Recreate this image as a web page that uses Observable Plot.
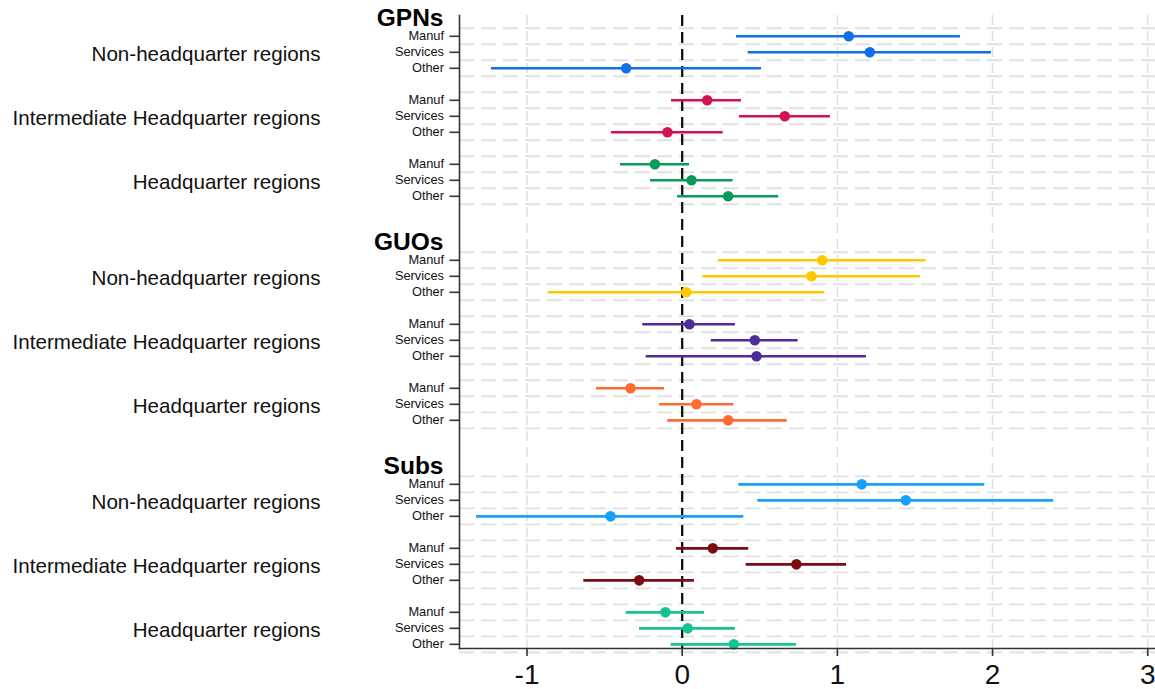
<!DOCTYPE html>
<html>
<head>
<meta charset="utf-8">
<script src="https://cdn.jsdelivr.net/npm/d3@7"></script>
<script src="https://cdn.jsdelivr.net/npm/@observablehq/plot@0.6"></script>
<style>
  html, body { margin: 0; padding: 0; background: #ffffff; }
  #chart svg { display: block; }
</style>
</head>
<body>
<div id="chart"></div>
<script>
// ---- data ----
const sections = ["GPNs", "GUOs", "Subs"];
const groups = ["Non-headquarter regions", "Intermediate Headquarter regions", "Headquarter regions"];
const sectors = ["Manuf", "Services", "Other"];

// point estimates, ordered section > group > sector
const coef = [
   1.073,  1.209, -0.361,
   0.161,  0.661, -0.095,
  -0.176,  0.060,  0.296,
   0.902,  0.833,  0.026,
   0.047,  0.468,  0.479,
  -0.333,  0.092,  0.296,
   1.157,  1.441, -0.462,
   0.197,  0.736, -0.277,
  -0.108,  0.036,  0.332
];
const lower = [
   0.350,  0.425, -1.229,
  -0.069,  0.369, -0.456,
  -0.398, -0.204, -0.030,
   0.232,  0.133, -0.863,
  -0.254,  0.187, -0.232,
  -0.552, -0.146, -0.093,
   0.365,  0.487, -1.325,
  -0.037,  0.412, -0.634,
  -0.361, -0.275, -0.071
];
const upper = [
   1.793,  1.993,  0.511,
   0.382,  0.955,  0.264,
   0.047,  0.328,  0.622,
   1.572,  1.535,  0.919,
   0.343,  0.747,  1.187,
  -0.114,  0.333,  0.677,
   1.950,  2.394,  0.397,
   0.429,  1.059,  0.079,
   0.144,  0.343,  0.736
];
// one colour per section × group
const colors = [
  "#1170e6", "#d3124f", "#0c9a5a",
  "#fdc800", "#4f2c9a", "#fe6a30",
  "#17a1fa", "#7a0c12", "#13c393"
];
const xTicks = [-1, 0, 1, 2, 3];

// ---- layout helpers (slot structure) ----
const rows = [];
sections.forEach((sec, i) => groups.forEach((g, j) => sectors.forEach((sc, k) => {
  const n = i * 9 + j * 3 + k;
  rows.push({section: sec, group: g, sector: sc, slot: 14 * i + 4 * j + k,
             coef: coef[n], lo: lower[n], hi: upper[n], color: colors[i * 3 + j]});
})));
const sectorBySlot = new Map(rows.map(d => [d.slot, d.sector]));
const groupRows = [];
sections.forEach((sec, i) => groups.forEach((g, j) => groupRows.push({slot: 14 * i + 4 * j + 1, label: g})));
const groupBySlot = new Map(groupRows.map(d => [d.slot, d.label]));
const titleRows = sections.map((s, i) => ({slot: 14 * i - 1, label: s}));
const titleBySlot = new Map(titleRows.map(d => [d.slot, d.label]));
const gridSlots = [];
sections.forEach((s, i) => { for (let m = 0; m < 12; m++) gridSlots.push(14 * i + m - 0.5); });

const xDomain = [-1.435, 3.05];
const yDomain = [-1.3, 38.26];

const chart = Plot.plot({
  width: 1155,
  height: 689,
  marginLeft: 459,
  marginRight: 0,
  marginTop: 15,
  marginBottom: 41,
  style: {fontFamily: "'Liberation Sans', Arial, Helvetica, sans-serif", background: "#ffffff", color: "#111", overflow: "visible"},
  x: {domain: xDomain, label: null},
  y: {type: "linear", domain: yDomain, reverse: true, label: null},
  marks: [
    // horizontal dashed grid
    Plot.ruleY(gridSlots, {y: d => d, x1: xDomain[0], x2: xDomain[1], stroke: "#e0e0e0", strokeWidth: 1.9, strokeDasharray: "15,7"}),
    // vertical dashed grid
    Plot.ruleX(xTicks.filter(t => t !== 0), {x: d => d, y1: yDomain[0], y2: yDomain[1], stroke: "#e0e0e0", strokeWidth: 1.6, strokeDasharray: "10,6"}),
    // reference line at zero
    Plot.ruleX([0], {y1: yDomain[0], y2: yDomain[1], stroke: "#111", strokeWidth: 2.3, strokeDasharray: "11,6"}),
    // confidence intervals
    Plot.ruleY(rows, {y: "slot", x1: "lo", x2: "hi", stroke: "color", strokeWidth: 2.6}),
    // point estimates
    Plot.dot(rows, {y: "slot", x: "coef", fill: "color", r: 5.3, stroke: null}),
    // axis lines
    Plot.frame({anchor: "left", stroke: "#333", strokeWidth: 1.6}),
    Plot.frame({anchor: "bottom", stroke: "#333", strokeWidth: 1.6}),
    // x axis
    Plot.axisX({ticks: xTicks, tickFormat: d => d, tickSize: 8, tickPadding: 8, fontSize: 28, stroke: "#333", strokeWidth: 1.6, fill: "#111", label: null}),
    // sector tick labels
    Plot.axisY({ticks: rows.map(d => d.slot), tickFormat: s => sectorBySlot.get(s), tickSize: 9.5, tickPadding: 6, fontSize: 12.8, stroke: "#333", strokeWidth: 1.6, fill: "#111", label: null}),
    // group labels
    Plot.axisY({ticks: groupRows.map(d => d.slot), tickFormat: s => groupBySlot.get(s), tickSize: 0, tickPadding: 139, fontSize: 20.6, fill: "#111", label: null, dy: 2}),
    // section titles
    Plot.axisY({ticks: titleRows.map(d => d.slot), tickFormat: s => titleBySlot.get(s), tickSize: 0, tickPadding: 16, fontSize: 24.5, fontWeight: "bold", fill: "#000", label: null, dy: -2.5})
  ]
});
document.getElementById("chart").appendChild(chart);
</script>
</body>
</html>
